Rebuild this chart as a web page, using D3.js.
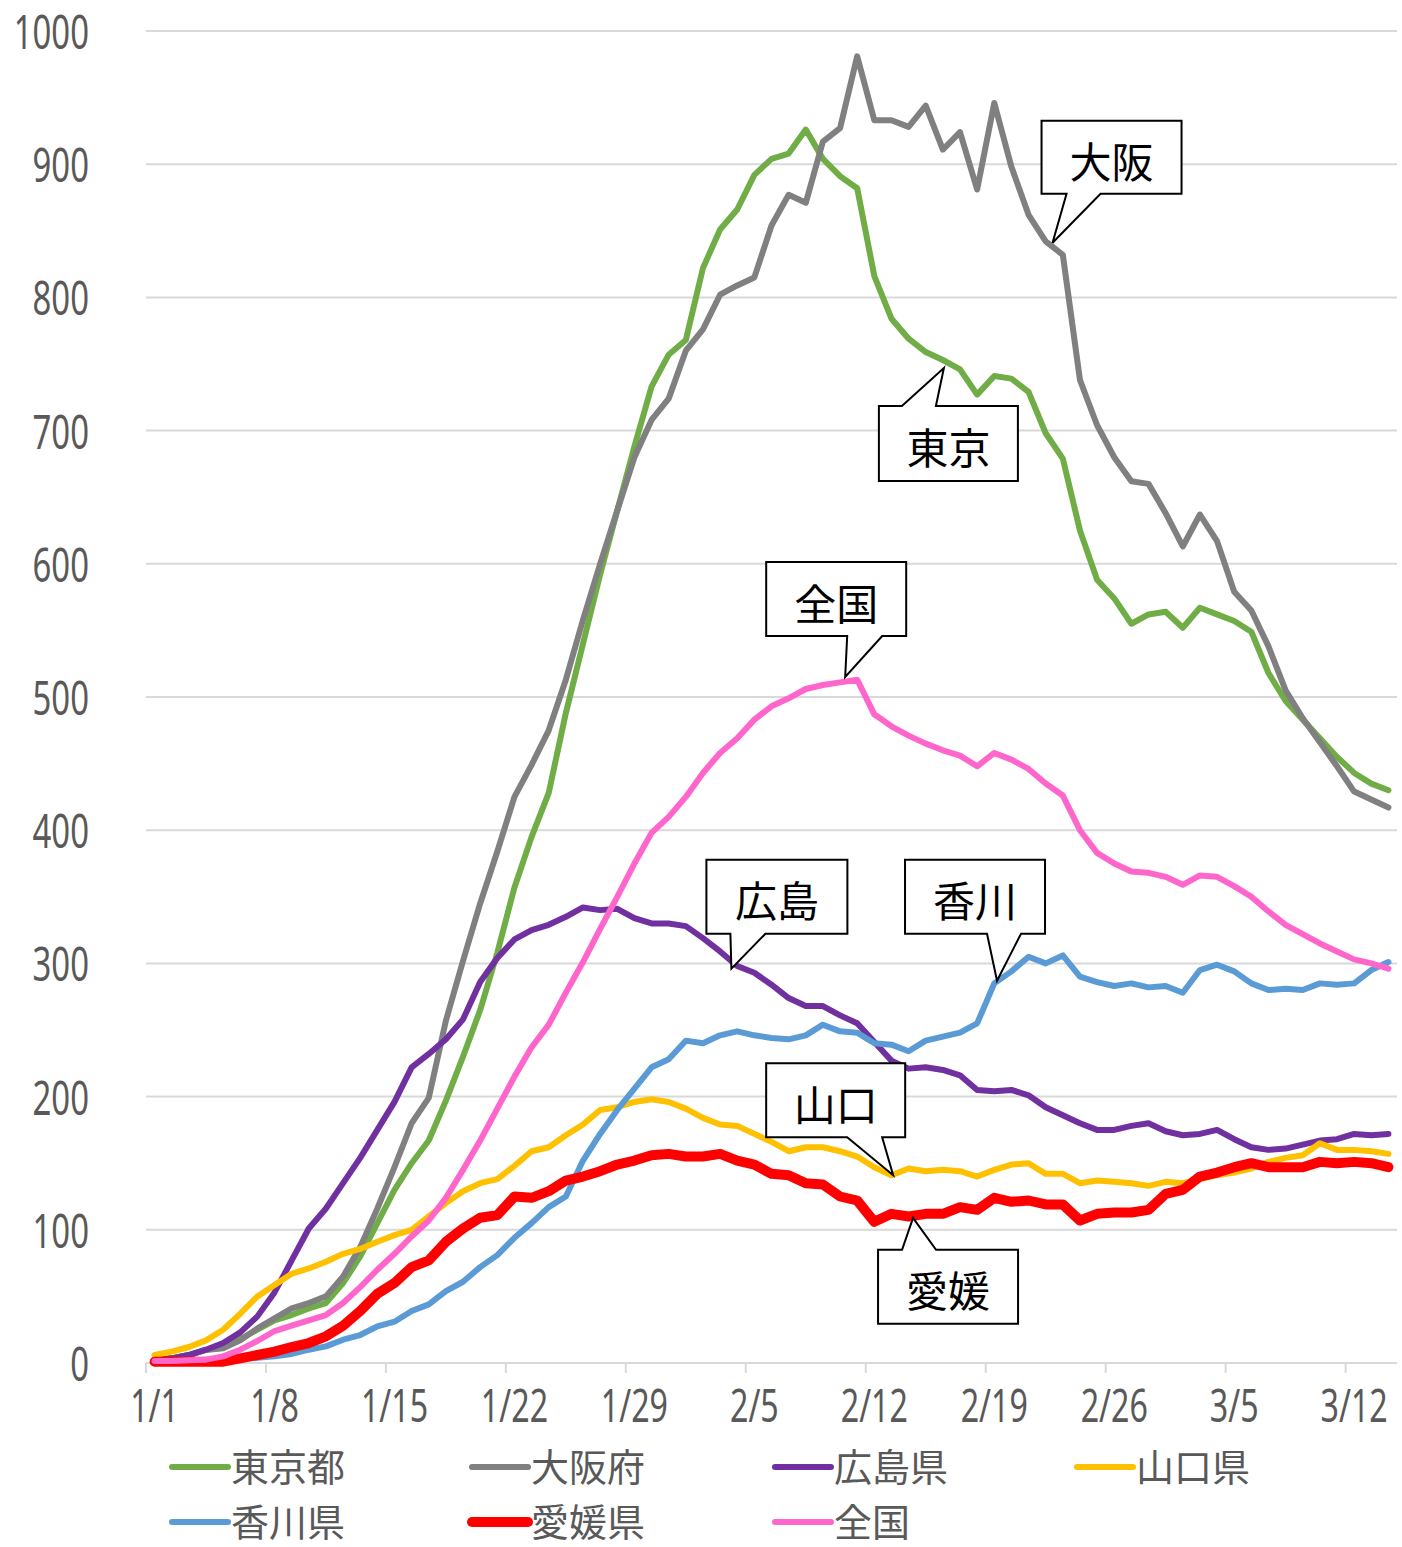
<!DOCTYPE html>
<html><head><meta charset="utf-8">
<script src="https://cdn.jsdelivr.net/npm/d3@7/dist/d3.min.js"></script>
<style>html,body{margin:0;padding:0;background:#fff}</style>
</head><body>
<svg id="chart" width="1402" height="1547"></svg>
<script>
const dates = ["1/1","1/2","1/3","1/4","1/5","1/6","1/7","1/8","1/9","1/10","1/11","1/12","1/13","1/14","1/15","1/16","1/17","1/18","1/19","1/20","1/21","1/22","1/23","1/24","1/25","1/26","1/27","1/28","1/29","1/30","1/31",
"2/1","2/2","2/3","2/4","2/5","2/6","2/7","2/8","2/9","2/10","2/11","2/12","2/13","2/14","2/15","2/16","2/17","2/18","2/19","2/20","2/21","2/22","2/23","2/24","2/25","2/26","2/27","2/28",
"3/1","3/2","3/3","3/4","3/5","3/6","3/7","3/8","3/9","3/10","3/11","3/12","3/13","3/14"];
const tickLabels = ["1/1","1/8","1/15","1/22","1/29","2/5","2/12","2/19","2/26","3/5","3/12"];
const yTicks = [0,100,200,300,400,500,600,700,800,900,1000];

const tokyo = [2,3.5,6,9.8,13,18,25,32,36,41,45,60,80,105,130,150,167,197,230,265,308,357,395,428,488,540,592,640,688,733,757,768,822,851,866,892,904,908,926,904,891,882,816,784,769,759,753,746,727,741,739,729,698,679,625,588,574,555,562,564,552,567,562,557,549,518,497,483,469,455,443,435,430];
const osaka = [2,3.5,6,9.8,11,17,26,33.5,41,45,50,65,87,116,147,180,199,257,302,345,384,425,449,475,513,558,600,640,680,708,724,760,776,802,809,815,854,877,871,917,927,981,933,933,928,944,911,924,881,946,898,862,842,832,738,704,680,662,660,638,613,637,617,579,565,538,505,484,466,448,429,423,417];
const hiroshima = [2,3.5,6,10,15,23,35,53,77,101,116,135,154,175,196,222,232,243,258,286,304,318,325,329,335,342,340,341,334,330,330,328,319,309,298,293,284,274,268,268,261,255,241,227,221,222,220,216,205,204,205,201,192,186,180,175,175,178,180,174,171,172,175,168,162,160,161,164,167,168,172,171,172];
const yamaguchi = [6,8.5,12,17,25,37,50,58.6,67,71,76,82,85.6,91,96,100,110,120,129,135,138,148,159,162,171,179,190,192,196,198,196,191,184,179,178,172,166,159,162,162,159,155,147,141,146,144,145,144,140,145,149,150,142,142,135,137,136,135,133,136,135,138,141,143,146,151,154,156,165,160,160,159,157];
const kagawa = [1,1,1.5,2,2.5,3,4,5,6.8,10,12.5,17.5,21,27.5,31,39,44,54,61,72,81,94,105,117,125,152,172,190,206,222,228,242,240,246,249,246,244,243,246,254,249,248,240,239,234,242,245,248,255,285,294,305,300,306,290,286,283,285,282,283,278,295,299,294,285,280,281,280,285,284,285,295,301];
const ehime = [1,1,1,1,1,3.5,6,8.5,12,15,20,28,39,52,60,72,77,91,101,109,111,125,124,129,137,140,144,149,152,156,157,155,155,157,152,149,142,141,135,134,125,122,106,112,110,112,112,117,115,124,121,122,119,119,107,112,113,113,115,127,130,140,143,147,150,147,147,147,151,150,151,150,147];
const zenkoku = [1.5,1.5,2,2.5,5,10,16.5,24,28,32,36,45,57,70,82,95,107,124,145,167,191,215,237,254,278,301,326,350,375,398,410,425,443,458,469,483,493,499,506,509,511,513,487,478,471,465,460,456,448,458,453,446,435,426,400,383,375,369,368,365,359,366,365,358,350,339,329,322,315,309,303,300,296];

const seriesNames = ["東京都","大阪府","広島県","山口県","香川県","愛媛県","全国"];
const seriesValues = [tokyo, osaka, hiroshima, yamaguchi, kagawa, ehime, zenkoku];
const seriesColors = ["#70AD47","#808080","#7030A0","#FFC000","#5B9BD5","#FF0000","#FF66CC"];
const seriesWidths = [6,6,6,6,6,10,6];

// callouts: label, anchor index (fractional), value at tip, box offset [dx,dy,w,h], pointer base [from,to], side
const calloutLabels = ["大阪","東京","全国","広島","香川","山口","愛媛"];
const calloutAt = [52.4, 46.06, 40.3, 33.66, 49.16, 43.1, 44.26];
const calloutVal = [841, 747, 515, 296, 287, 141, 109];
const calloutBox = [[-11,-122,140,73],[-65,38,139,75],[-79,-115,140,74],[-25,-109,141,74],[-92,-121,140,74],[-127,-112,139,74],[-35,32,140,74]];
const calloutBase = [[25,59],[23,57],[81,116],[24,59],[82,116],[81,116],[24,58]];
const calloutSide = ["bottom","top","bottom","bottom","bottom","bottom","top"];

const svg = d3.select("#chart");
svg.append("rect").attr("width",1402).attr("height",1547).attr("fill","#fff");

const x = d3.scaleBand().domain(dates).range([146,1397]).padding(0);
const bw = x.bandwidth();
const xc = d => x(d) + bw/2;
const xi = i => x(dates[0]) + (i + 0.5) * bw;
const y = d3.scaleLinear().domain([0,1000]).range([1363,31]);

const numFont = "'Noto Sans', 'DejaVu Sans', sans-serif";
const jpFont = "'Noto Sans CJK JP', 'Noto Sans CJK SC', sans-serif";

// gridlines
svg.append("g").selectAll("line").data(yTicks).join("line")
  .attr("x1",146).attr("x2",1397)
  .attr("y1",d=>y(d)).attr("y2",d=>y(d))
  .attr("stroke","#d9d9d9").attr("stroke-width",2);

// y labels
svg.append("g").selectAll("text").data(yTicks).join("text")
  .attr("transform",d=>`translate(89,${y(d)}) scale(0.7,1)`)
  .attr("text-anchor","end").attr("dominant-baseline","central")
  .attr("font-family",numFont).attr("font-size",47).attr("fill","#595959")
  .text(d=>d);

// x axis ticks
const tickDates = dates.filter((d,i)=>i%7===0);
svg.append("g").selectAll("line").data(tickDates).join("line")
  .attr("x1",d=>x(d)).attr("x2",d=>x(d))
  .attr("y1",1363).attr("y2",1373)
  .attr("stroke","#d9d9d9").attr("stroke-width",2);
svg.append("g").selectAll("text").data(tickLabels).join("text")
  .attr("transform",d=>`translate(${xc(d)},1405) scale(0.7,1)`)
  .attr("text-anchor","middle").attr("dominant-baseline","central")
  .attr("font-family",numFont).attr("font-size",46).attr("fill","#595959")
  .text(d=>d);

// lines
const line = d3.line().x((v,i)=>xc(dates[i])).y(v=>y(v));
svg.append("g").selectAll("path").data(seriesValues).join("path")
  .attr("d",d=>line(d))
  .attr("fill","none")
  .attr("stroke",(d,i)=>seriesColors[i])
  .attr("stroke-width",(d,i)=>seriesWidths[i])
  .attr("stroke-linejoin","round").attr("stroke-linecap","round");

// callouts
const cg = svg.append("g");
calloutLabels.forEach((lab,k)=>{
  const tx = xi(calloutAt[k]), ty = y(calloutVal[k]);
  const [dx,dy,w,h] = calloutBox[k];
  const L = tx+dx, T = ty+dy, R = L+w, B = T+h;
  const [b0,b1] = calloutBase[k];
  let p;
  if (calloutSide[k]==="bottom") {
    p = `M${L},${T}H${R}V${B}H${L+b1}L${tx},${ty}L${L+b0},${B}H${L}Z`;
  } else {
    p = `M${L},${T}H${L+b0}L${tx},${ty}L${L+b1},${T}H${R}V${B}H${L}Z`;
  }
  cg.append("path").attr("d",p).attr("fill","#fff").attr("stroke","#000").attr("stroke-width",2);
  cg.append("text").attr("x",(L+R)/2).attr("y",(T+B)/2+2)
    .attr("text-anchor","middle").attr("dominant-baseline","central")
    .attr("font-family",jpFont).attr("font-size",42).attr("fill","#000")
    .text(lab);
});

// legend
const legX = [172,472,775,1077];
const legBase = [1481,1536];
const lg = svg.append("g");
seriesNames.forEach((n,i)=>{
  const col = i%4, row = Math.floor(i/4);
  const lx = legX[col], lb = legBase[row];
  const ly = lb - 14;
  lg.append("line").attr("x1",lx).attr("x2",lx+56).attr("y1",ly).attr("y2",ly)
    .attr("stroke",seriesColors[i]).attr("stroke-width",seriesWidths[i]).attr("stroke-linecap","round");
  lg.append("text").attr("x",lx+59).attr("y",lb)
    .attr("font-family",jpFont).attr("font-size",38).attr("fill","#595959")
    .text(n);
});
</script>
</body></html>
